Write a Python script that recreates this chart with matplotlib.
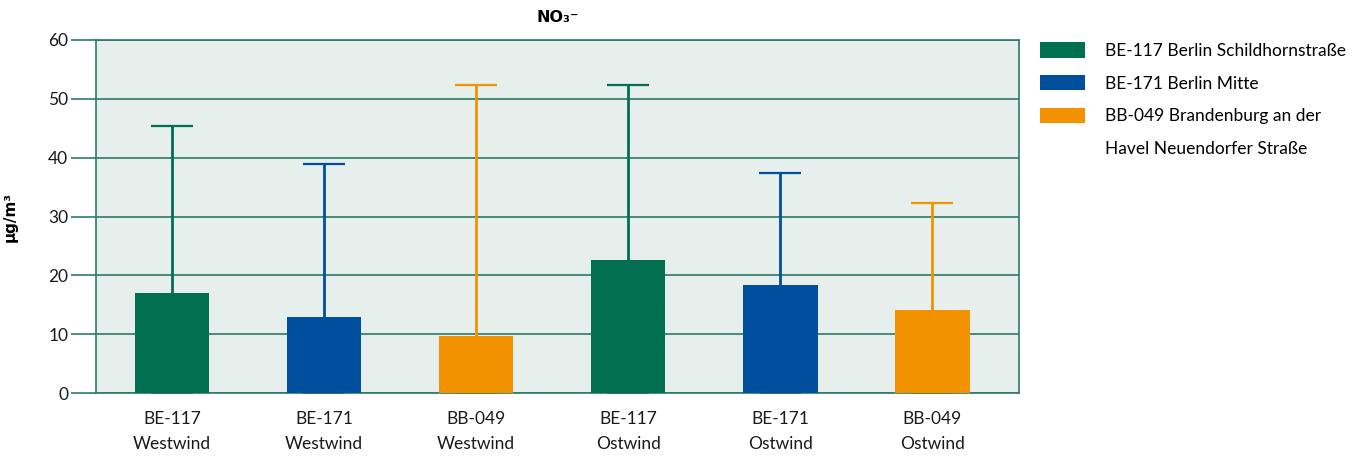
import matplotlib
matplotlib.use("Agg")
import matplotlib.pyplot as plt
from matplotlib.patches import Patch

# data
categories = ["BE-117\nWestwind", "BE-171\nWestwind", "BB-049\nWestwind",
              "BE-117\nOstwind", "BE-171\nOstwind", "BB-049\nOstwind"]
means = [17.0, 12.9, 9.7, 22.6, 18.4, 14.1]
maxima = [45.4, 38.9, 52.4, 52.4, 37.4, 32.3]
stations = ["BE-117 Berlin Schildhornstraße", "BE-171 Berlin Mitte",
            "BB-049 Brandenburg an der", "Havel Neuendorfer Straße"]
station_colors = ["#006f52", "#004f9c", "#f39200"]
bar_colors = station_colors * 2

grid_color = "#2b7a69"
plt.rcParams["font.family"] = ["Lato", "DejaVu Sans"]

fig = plt.figure(figsize=(13.65, 4.59), dpi=100)
ax = fig.add_axes([96 / 1365, 1 - 393 / 459, 923 / 1365, 353 / 459])
ax.set_facecolor("#e6efec")

x = list(range(len(categories)))
ax.bar(x, means, width=0.49, color=bar_colors, zorder=3)
# whiskers from 0 to the maximum, lower part hidden behind the bar
for xi, m, c in zip(x, maxima, bar_colors):
    ax.errorbar(xi, 0, yerr=[[0], [m]], fmt="none", ecolor=c,
                elinewidth=2, capsize=15, capthick=1.6, zorder=2)

ax.set_xlim(-0.5, 5.57)
ax.set_ylim(0, 60)
ax.set_yticks(range(0, 61, 10))
ax.set_xticks(x)
ax.set_xticklabels(categories, fontsize=12.5, color="#1a1a1a", linespacing=1.7)
ax.tick_params(axis="x", length=0, pad=13)
ax.tick_params(axis="y", length=18, width=1.2, color=grid_color,
               labelsize=12.5, labelcolor="#1a1a1a", pad=2)
ax.grid(axis="y", color=grid_color, linewidth=1.2, zorder=1)
for s in ax.spines.values():
    s.set_color(grid_color)
    s.set_linewidth(1.2)

ax.set_title("NO₃⁻", fontsize=11.5, fontweight="bold", pad=13,
             family="DejaVu Sans")
ax.set_ylabel("µg/m³", fontsize=11, fontweight="bold",
              family="DejaVu Sans")
ax.yaxis.set_label_coords(-78 / 923, 0.5)

handles = [Patch(facecolor=c) for c in station_colors]
handles.append(Patch(facecolor="none", edgecolor="none"))
leg = fig.legend(handles, stations, loc="upper left",
                 bbox_to_anchor=(1040 / 1365, 1 - 42 / 459),
                 borderaxespad=0, borderpad=0,
                 frameon=False, fontsize=12.5, handlelength=2.6,
                 handleheight=1.0, handletextpad=1.15, labelspacing=0.93)

fig.savefig("out.png", dpi=100)
